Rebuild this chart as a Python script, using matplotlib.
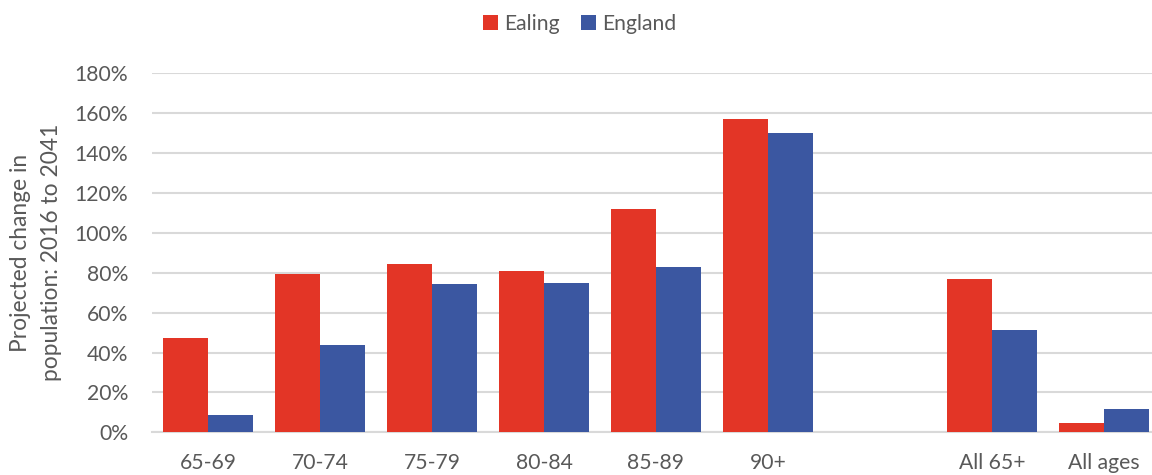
import matplotlib
matplotlib.use("Agg")
import matplotlib.pyplot as plt
import numpy as np
from matplotlib.ticker import FuncFormatter, MultipleLocator

categories = ["65-69", "70-74", "75-79", "80-84", "85-89", "90+", "", "All 65+", "All ages"]
ealing = [47.4, 79.5, 84.4, 81.1, 111.8, 157.0, np.nan, 77.0, 4.5]
england = [8.7, 43.8, 74.4, 74.9, 83.1, 150.0, np.nan, 51.5, 11.7]
series_names = ["Ealing", "England"]
colors = ["#E33526", "#3B57A1"]

plt.rcParams['font.family'] = ['Lato', 'DejaVu Sans']
fig = plt.figure(figsize=(11.52, 4.75), dpi=100)
W, H = 1152, 475
left, right = 152, 1160
bottom, top = 432.3, 73.3
ax = fig.add_axes([left / W, (H - bottom) / H, (right - left) / W, (bottom - top) / H])

x = np.arange(len(categories))
w = 0.40
ax.bar(x - w / 2, ealing, width=w, color=colors[0], label=series_names[0], zorder=3)
ax.bar(x + w / 2, england, width=w, color=colors[1], label=series_names[1], zorder=3)

ax.set_xlim(-0.5, len(categories) - 0.5)
ax.set_ylim(0, 180)
ax.yaxis.set_major_locator(MultipleLocator(20))
ax.yaxis.set_major_formatter(FuncFormatter(lambda v, p: f"{v:.0f}%"))
ax.grid(axis='y', color='#D9D9D9', linewidth=1.5, zorder=0)
for s in ['top', 'right', 'left']:
    ax.spines[s].set_visible(False)
ax.spines['bottom'].set_color('#D9D9D9')
ax.spines['bottom'].set_linewidth(1.5)
ax.tick_params(axis='both', length=0, labelsize=15.2, colors='#595959')
ax.tick_params(axis='y', pad=17)
ax.tick_params(axis='x', pad=15)
ax.set_xticks(x)
ax.set_xticklabels(categories)

ax.set_ylabel("Projected change in\npopulation: 2016 to 2041", fontsize=16.4, color='#595959', labelpad=9, linespacing=1.62)

fig.legend(loc='upper center', bbox_to_anchor=(0.503, 1.01), ncol=2, frameon=False,
           fontsize=15.2, labelcolor='#595959', handlelength=0.7, handleheight=0.7,
           columnspacing=1.0, handletextpad=0.3)

fig.savefig("out.png", dpi=100)
